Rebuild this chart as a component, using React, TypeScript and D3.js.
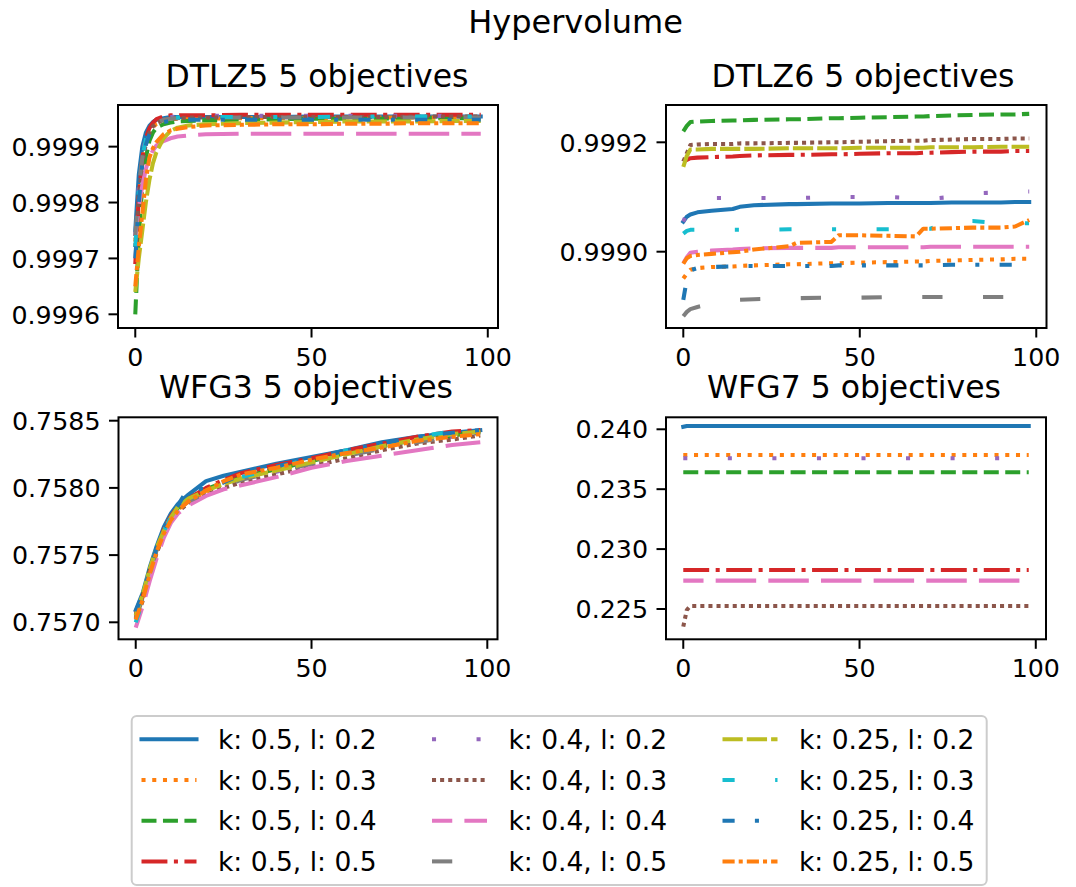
import React, { useEffect, useRef } from 'react'
import * as d3 from 'd3'

const labels = [
  'k: 0.5, l: 0.2', 'k: 0.5, l: 0.3', 'k: 0.5, l: 0.4', 'k: 0.5, l: 0.5',
  'k: 0.4, l: 0.2', 'k: 0.4, l: 0.3', 'k: 0.4, l: 0.4', 'k: 0.4, l: 0.5',
  'k: 0.25, l: 0.2', 'k: 0.25, l: 0.3', 'k: 0.25, l: 0.4', 'k: 0.25, l: 0.5',
]
const colors = [
  '#1f77b4', '#ff7f0e', '#2ca02c', '#d62728', '#9467bd', '#8c564b',
  '#e377c2', '#7f7f7f', '#bcbd22', '#17becf', '#1f77b4', '#ff7f0e',
]
// matplotlib dash patterns, in units of the line width
const dashes: (number[] | null)[] = [
  null, [1, 1.65], [3.7, 1.6], [6.4, 1.6, 1, 1.6],
  [1, 10], [1, 1], [10, 3], [5, 10],
  [5, 1], [3, 10, 1, 10], [3, 5, 1, 5], [3, 1, 1, 1],
]
const dashOffsets = [0, 0, 0, 0, 0, 0, 5, 0, 0, 0, 0, 0]

const xTicks = [0, 50, 100]

// DTLZ5
const dtlz5X = [0, 1, 2, 3, 4, 5, 6, 8, 10, 12, 15, 20, 30, 40, 50, 60, 70, 80, 90, 98]
const dtlz5Y = [
  [0.99975, 0.99985, 0.9999, 0.999925, 0.999937, 0.999944, 0.999948, 0.999951, 0.999953, 0.999953, 0.999953, 0.999953, 0.999953, 0.999953, 0.999954, 0.999954, 0.999954, 0.999954, 0.999954, 0.999954],
  [0.99973, 0.99981, 0.99987, 0.999905, 0.999925, 0.999935, 0.999941, 0.999946, 0.999949, 0.99995, 0.99995, 0.99995, 0.999951, 0.999951, 0.999951, 0.999952, 0.999952, 0.999952, 0.999952, 0.999952],
  [0.9996, 0.99974, 0.99983, 0.99988, 0.99991, 0.999925, 0.999934, 0.99994, 0.999943, 0.999945, 0.999946, 0.999947, 0.999948, 0.999949, 0.99995, 0.99995, 0.99995, 0.999951, 0.999951, 0.999951],
  [0.99969, 0.99981, 0.99988, 0.999915, 0.999933, 0.999943, 0.999949, 0.999954, 0.999956, 0.999956, 0.999956, 0.999956, 0.999957, 0.999957, 0.999957, 0.999957, 0.999957, 0.999957, 0.999957, 0.999957],
  [0.99974, 0.99983, 0.999885, 0.999915, 0.99993, 0.99994, 0.999946, 0.999951, 0.999953, 0.999954, 0.999955, 0.999955, 0.999955, 0.999955, 0.999955, 0.999955, 0.999955, 0.999955, 0.999955, 0.999955],
  [0.99972, 0.99981, 0.99987, 0.999905, 0.999925, 0.999936, 0.999942, 0.999948, 0.99995, 0.999951, 0.999952, 0.999952, 0.999953, 0.999953, 0.999953, 0.999953, 0.999953, 0.999954, 0.999954, 0.999954],
  [0.99974, 0.99979, 0.99983, 0.99986, 0.99988, 0.999893, 0.999902, 0.99991, 0.999915, 0.999918, 0.99992, 0.999922, 0.999923, 0.999923, 0.999923, 0.999923, 0.999923, 0.999923, 0.999923, 0.999923],
  [0.99974, 0.99983, 0.99988, 0.999912, 0.999929, 0.999938, 0.999943, 0.999948, 0.99995, 0.999951, 0.999952, 0.999952, 0.999952, 0.999952, 0.999952, 0.999952, 0.999952, 0.999952, 0.999952, 0.999952],
  [0.99964, 0.9997, 0.99975, 0.9998, 0.99984, 0.99987, 0.99989, 0.999915, 0.999928, 0.999934, 0.999938, 0.99994, 0.999942, 0.999943, 0.999944, 0.999945, 0.999945, 0.999945, 0.999946, 0.999946],
  [0.99972, 0.99982, 0.99988, 0.999913, 0.99993, 0.99994, 0.999945, 0.999949, 0.999951, 0.999952, 0.999953, 0.999953, 0.999953, 0.999953, 0.999953, 0.999954, 0.999954, 0.999954, 0.999954, 0.999954],
  [0.9997, 0.9998, 0.99987, 0.999903, 0.999922, 0.999934, 0.99994, 0.999944, 0.999946, 0.999947, 0.999948, 0.999948, 0.999948, 0.999948, 0.999948, 0.999948, 0.999948, 0.999948, 0.999948, 0.999948],
  [0.99965, 0.99972, 0.99978, 0.99984, 0.99988, 0.999897, 0.999908, 0.999922, 0.999929, 0.999932, 0.999935, 0.999938, 0.999939, 0.99994, 0.99994, 0.999941, 0.999941, 0.999942, 0.999942, 0.999942],
]
const dtlz5Ticks = [0.9996, 0.9997, 0.9998, 0.9999]

// DTLZ6
const dtlz6X = [0, 1, 2, 4, 8, 14, 16, 20, 30, 32, 42, 44, 50, 58, 66, 68, 70, 76, 82, 90, 94, 98]
const dtlz6Y = [
  [0.999055, 0.999064, 0.999068, 0.999072, 0.999075, 0.999078, 0.999082, 0.999085, 0.999087, 0.999087, 0.999088, 0.999088, 0.999088, 0.999089, 0.999089, 0.999089, 0.999089, 0.99909, 0.99909, 0.99909, 0.999091, 0.999091],
  [0.998951, 0.99896, 0.998967, 0.99897, 0.998972, 0.998973, 0.998974, 0.998975, 0.998977, 0.998977, 0.998979, 0.998979, 0.99898, 0.998981, 0.998982, 0.998982, 0.998983, 0.998984, 0.998985, 0.998986, 0.998987, 0.998987],
  [0.99922, 0.99923, 0.999237, 0.999238, 0.999239, 0.99924, 0.99924, 0.999241, 0.999242, 0.999242, 0.999244, 0.999244, 0.999245, 0.999246, 0.999247, 0.999247, 0.999248, 0.999249, 0.99925, 0.999251, 0.999251, 0.999252],
  [0.999165, 0.999168, 0.999171, 0.999172, 0.999173, 0.999174, 0.999175, 0.999176, 0.999177, 0.999177, 0.999178, 0.999178, 0.999179, 0.99918, 0.99918, 0.999181, 0.999181, 0.999182, 0.999183, 0.999183, 0.999184, 0.999184],
  [0.999055, 0.99907, 0.99908, 0.99909, 0.999098, 0.999098, 0.999098, 0.999098, 0.999098, 0.999098, 0.9991, 0.9991, 0.9991, 0.9991, 0.999098, 0.999097, 0.999097, 0.9991, 0.999107, 0.999108, 0.99911, 0.99911],
  [0.999165, 0.99918, 0.999195, 0.999196, 0.999197, 0.999197, 0.999198, 0.999198, 0.999199, 0.999199, 0.9992, 0.9992, 0.999201, 0.999202, 0.999203, 0.999203, 0.999204, 0.999205, 0.999206, 0.999206, 0.999207, 0.999207],
  [0.998979, 0.99899, 0.998998, 0.999, 0.999002, 0.999004, 0.999005, 0.999006, 0.999007, 0.999007, 0.999007, 0.999008, 0.999008, 0.999008, 0.999008, 0.999008, 0.999009, 0.999009, 0.999009, 0.999009, 0.999009, 0.999009],
  [0.998882, 0.99889, 0.998895, 0.998899, 0.998905, 0.99891, 0.998912, 0.998913, 0.998915, 0.998915, 0.998916, 0.998916, 0.998916, 0.998917, 0.998917, 0.998917, 0.998917, 0.998917, 0.998917, 0.998917, 0.998917, 0.998917],
  [0.999155, 0.999175, 0.999187, 0.999187, 0.999188, 0.999188, 0.999188, 0.999188, 0.999189, 0.999189, 0.999189, 0.999189, 0.99919, 0.99919, 0.99919, 0.99919, 0.999191, 0.999191, 0.999191, 0.999192, 0.999192, 0.999192],
  [0.999033, 0.999038, 0.99904, 0.99904, 0.99904, 0.99904, 0.99904, 0.99904, 0.999041, 0.999041, 0.999041, 0.999041, 0.999041, 0.999041, 0.999041, 0.999042, 0.999042, 0.999056, 0.999056, 0.999052, 0.999052, 0.999052],
  [0.998912, 0.99895, 0.998966, 0.99897, 0.998972, 0.998973, 0.998974, 0.998974, 0.998974, 0.998974, 0.998974, 0.998975, 0.998975, 0.998975, 0.998975, 0.998975, 0.998975, 0.998976, 0.998976, 0.998976, 0.998976, 0.998976],
  [0.998978, 0.998988, 0.998992, 0.998994, 0.998996, 0.998999, 0.999, 0.999004, 0.99901, 0.999016, 0.999018, 0.99903, 0.99903, 0.999029, 0.999028, 0.999042, 0.999042, 0.999043, 0.999044, 0.999044, 0.999046, 0.999058],
]
const dtlz6Ticks = [0.999, 0.9992]

// WFG3
const wfg3X = [0, 2, 4, 6, 8, 10, 12, 15, 20, 25, 30, 40, 50, 60, 70, 80, 90, 98]
const wfg3Y = [
  [0.75709, 0.75722, 0.75741, 0.75757, 0.75771, 0.75781, 0.75788, 0.75795, 0.75805, 0.75809, 0.75812, 0.75818, 0.75823, 0.75828, 0.75834, 0.75838, 0.75841, 0.75843],
  [0.75704, 0.75719, 0.75737, 0.75754, 0.75767, 0.75777, 0.75784, 0.7579, 0.75797, 0.75803, 0.75808, 0.75814, 0.7582, 0.75826, 0.75831, 0.75836, 0.75839, 0.75842],
  [0.75705, 0.7572, 0.75739, 0.75755, 0.75768, 0.75778, 0.75785, 0.75792, 0.75799, 0.75804, 0.75808, 0.75814, 0.7582, 0.75826, 0.75831, 0.75836, 0.75839, 0.75842],
  [0.75706, 0.75719, 0.75738, 0.75755, 0.75769, 0.75779, 0.75786, 0.75792, 0.758, 0.75806, 0.75811, 0.75817, 0.75822, 0.75828, 0.75833, 0.75838, 0.75842, 0.75843],
  [0.75703, 0.75717, 0.75736, 0.75753, 0.75766, 0.75776, 0.75783, 0.7579, 0.75797, 0.75802, 0.75806, 0.75812, 0.75818, 0.75824, 0.7583, 0.75835, 0.75838, 0.7584],
  [0.75702, 0.75716, 0.75735, 0.75752, 0.75765, 0.75775, 0.75782, 0.75789, 0.75795, 0.758, 0.75804, 0.7581, 0.75816, 0.75822, 0.75828, 0.75833, 0.75836, 0.75839],
  [0.75696, 0.75712, 0.75731, 0.75748, 0.75763, 0.75774, 0.75781, 0.75787, 0.75794, 0.75799, 0.75802, 0.75808, 0.75815, 0.7582, 0.75824, 0.75828, 0.75832, 0.75834],
  [0.75703, 0.75718, 0.75737, 0.75754, 0.75767, 0.75777, 0.75784, 0.7579, 0.75796, 0.75801, 0.75806, 0.75812, 0.75818, 0.75824, 0.75829, 0.75834, 0.75838, 0.75841],
  [0.75705, 0.75721, 0.7574, 0.75756, 0.75768, 0.75778, 0.75786, 0.75792, 0.75798, 0.75803, 0.75807, 0.75813, 0.75819, 0.75825, 0.75831, 0.75836, 0.7584, 0.75842],
  [0.757, 0.75716, 0.75736, 0.75754, 0.75768, 0.75778, 0.75785, 0.75791, 0.75798, 0.75803, 0.75808, 0.75815, 0.75822, 0.75828, 0.75833, 0.75838, 0.75842, 0.75845],
  [0.75708, 0.75721, 0.75739, 0.75756, 0.7577, 0.7578, 0.75787, 0.758, 0.75799, 0.75804, 0.7581, 0.75816, 0.75822, 0.75828, 0.75833, 0.75838, 0.75841, 0.75843],
  [0.75702, 0.75717, 0.75736, 0.75753, 0.75766, 0.75776, 0.75783, 0.7579, 0.75798, 0.75805, 0.7581, 0.75815, 0.75821, 0.75826, 0.7583, 0.75835, 0.75838, 0.7584],
]
const wfg3Ticks = [0.757, 0.7575, 0.758, 0.7585]

// WFG7 (only seven runs show up)
const wfg7X = [0, 1, 2, 98]
const wfg7Y: (number[] | null)[] = [
  [0.24021, 0.240275, 0.240275, 0.240275],
  [0.237855, 0.237855, 0.237855, 0.237855],
  [0.236411, 0.236411, 0.236411, 0.236411],
  [0.228255, 0.228255, 0.228255, 0.228255],
  [0.23758, 0.23758, 0.23758, 0.23758],
  [0.223522, 0.224917, 0.22525, 0.22525],
  [0.227367, 0.227367, 0.227367, 0.227367],
  null, null, null, null, null,
]
const wfg7Ticks = [0.225, 0.23, 0.235, 0.24]

const LW = 4.05
const FONT = 'DejaVu Sans, Liberation Sans, sans-serif'

const App = () => {
  const ref = useRef<SVGSVGElement>(null)

  useEffect(() => {
    const svg = d3.select(ref.current)
    svg.selectAll('*').remove()

    const panels = [
      {title: 'DTLZ5 5 objectives', tx: 317, ty: 87.3, xs: dtlz5X, ys: dtlz5Y, ticks: dtlz5Ticks, fmt: '.4f',
        dom: [0.9995755, 0.9999745], left: 118, right: 498, top: 105, bottom: 328},
      {title: 'DTLZ6 5 objectives', tx: 863, ty: 87.3, xs: dtlz6X, ys: dtlz6Y, ticks: dtlz6Ticks, fmt: '.4f',
        dom: [0.9988605, 0.9992682], left: 666, right: 1046.5, top: 105, bottom: 328},
      {title: 'WFG3 5 objectives', tx: 306, ty: 398.3, xs: wfg3X, ys: wfg3Y, ticks: wfg3Ticks, fmt: '.4f',
        dom: [0.7568735, 0.7585253], left: 118.5, right: 497.5, top: 417.3, bottom: 639.3},
      {title: 'WFG7 5 objectives', tx: 854, ty: 398.3, xs: wfg7X, ys: wfg7Y, ticks: wfg7Ticks, fmt: '.3f',
        dom: [0.22247, 0.241], left: 666, right: 1046, top: 417.3, bottom: 639.3},
    ]

    svg.append('text')
      .attr('x', 575.5).attr('y', 33.3)
      .attr('text-anchor', 'middle')
      .attr('font-size', 32)
      .text('Hypervolume')

    panels.forEach(p => {
      const x = d3.scaleLinear().domain([-4.9, 102.9]).range([p.left, p.right])
      const y = d3.scaleLinear().domain(p.dom).range([p.bottom, p.top])
      const g = svg.append('g')

      g.append('text')
        .attr('x', p.tx).attr('y', p.ty)
        .attr('text-anchor', 'middle')
        .attr('font-size', 31.5)
        .text(p.title)

      const line = d3.line<number>()
        .x((d, i) => x(p.xs[i]))
        .y(d => y(d))

      p.ys.forEach((vals, i) => {
        if (!vals) return
        const path = g.append('path')
          .attr('d', line(vals))
          .attr('fill', 'none')
          .attr('stroke', colors[i])
          .attr('stroke-width', LW)
          .attr('stroke-linejoin', 'round')
        const dash = dashes[i]
        if (dash) {
          path.attr('stroke-dasharray', dash.map(v => v * LW).join(','))
            .attr('stroke-dashoffset', dashOffsets[i] * LW)
            .attr('stroke-linecap', 'butt')
        } else {
          path.attr('stroke-linecap', 'square')
        }
      })

      // frame
      g.append('rect')
        .attr('x', p.left).attr('y', p.top)
        .attr('width', p.right - p.left).attr('height', p.bottom - p.top)
        .attr('fill', 'none').attr('stroke', '#000').attr('stroke-width', 2)

      // y axis
      p.ticks.forEach(t => {
        g.append('line')
          .attr('x1', p.left - 9.5).attr('x2', p.left)
          .attr('y1', y(t)).attr('y2', y(t))
          .attr('stroke', '#000').attr('stroke-width', 2)
        g.append('text')
          .attr('x', p.left - 18).attr('y', y(t) + 9.2)
          .attr('text-anchor', 'end')
          .attr('font-size', 25.3)
          .text(d3.format(p.fmt)(t))
      })

      // x axis
      xTicks.forEach(t => {
        g.append('line')
          .attr('x1', x(t)).attr('x2', x(t))
          .attr('y1', p.bottom).attr('y2', p.bottom + 9.5)
          .attr('stroke', '#000').attr('stroke-width', 2)
        g.append('text')
          .attr('x', x(t)).attr('y', p.bottom + 37.7)
          .attr('text-anchor', 'middle')
          .attr('font-size', 25.3)
          .text(t)
      })
    })

    // legend
    const lg = svg.append('g')
    lg.append('rect')
      .attr('x', 131.7).attr('y', 716)
      .attr('width', 855).attr('height', 169)
      .attr('rx', 5)
      .attr('fill', 'white').attr('fill-opacity', 0.8)
      .attr('stroke', '#cccccc').attr('stroke-width', 2)

    const colX = [141.5, 432, 722.5]
    labels.forEach((lab, i) => {
      const cx = colX[Math.floor(i / 4)]
      const cy = 739.3 + (i % 4) * 40.7
      const h = lg.append('line')
        .attr('x1', cx).attr('x2', cx + 55)
        .attr('y1', cy).attr('y2', cy)
        .attr('stroke', colors[i])
        .attr('stroke-width', LW)
      const dash = dashes[i]
      if (dash) {
        h.attr('stroke-dasharray', dash.map(v => v * LW).join(','))
          .attr('stroke-dashoffset', dashOffsets[i] * LW)
      } else {
        h.attr('stroke-linecap', 'square')
      }
      lg.append('text')
        .attr('x', cx + 76.5).attr('y', cy + 9.7)
        .attr('font-size', 26.5)
        .text(lab)
    })
  }, [])

  return (
    <svg ref={ref} width={1076} height={887}
      style={{position: 'absolute', left: 0, top: 0, fontFamily: FONT, background: 'white'}}>
    </svg>
  )
}

export default App
